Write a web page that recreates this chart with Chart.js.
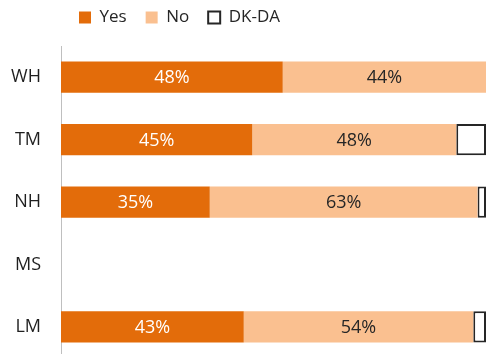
<!DOCTYPE html>
<html><head><meta charset="utf-8">
<script src="https://cdn.jsdelivr.net/npm/chart.js@4.4.1/dist/chart.umd.min.js"></script>
<style>
html,body{margin:0;padding:0;overflow:hidden;background:#fff;width:487px;height:354px}
canvas{display:block}
</style></head>
<body><canvas id="c" width="487" height="389" style="width:487px;height:389px"></canvas>
<script>
const categories = ['WH', 'TM', 'NH', 'MS', 'LM'];
const seriesNames = ['Yes', 'No', 'DK-DA'];
const yesValues = [48, 45, 35, null, 43];
const noValues = [44, 48, 63, null, 54];
const dkdaValues = [null, 7, 2, null, 3];

// 100% stacked: each bar is drawn as its share of the category total
const rawSeries = [yesValues, noValues, dkdaValues];
const totals = categories.map((_, i) => rawSeries.reduce((s, arr) => s + (arr[i] || 0), 0));
const share = arr => arr.map((v, i) => v == null ? null : v / totals[i] * 100);

const FONT = "'Open Sans', 'DejaVu Sans', sans-serif";

const legendShift = {
  id: 'legendShift',
  afterLayout(chart) {
    const lg = chart.legend;
    if (!lg) return;
    lg.left += 60; lg.right += 60;
    lg.top -= 10; lg.bottom -= 10;
  }
};

const dataLabels = {
  id: 'dataLabels',
  afterDatasetsDraw(chart) {
    const ctx = chart.ctx;
    ctx.save();
    ctx.font = '18px ' + FONT;
    ctx.textAlign = 'center';
    ctx.textBaseline = 'middle';
    [0, 1].forEach(di => {
      const meta = chart.getDatasetMeta(di);
      meta.data.forEach((el, i) => {
        const raw = rawSeries[di][i];
        if (raw == null) return;
        const p = el.getCenterPoint();
        ctx.fillStyle = di === 0 ? '#ffffff' : '#262626';
        ctx.fillText(raw + '%', p.x, p.y + 1);
      });
    });
    ctx.restore();
  }
};

new Chart(document.getElementById('c'), {
  type: 'bar',
  data: {
    labels: categories,
    datasets: [
      { label: seriesNames[0], data: share(yesValues), backgroundColor: '#E36C0A', borderWidth: 0 },
      { label: seriesNames[1], data: share(noValues), backgroundColor: '#FAC090', borderWidth: 0 },
      { label: seriesNames[2], data: share(dkdaValues), backgroundColor: '#FFFFFF', borderColor: '#262626', borderWidth: 2, borderSkipped: false }
    ]
  },
  options: {
    indexAxis: 'y',
    responsive: false,
    animation: false,
    devicePixelRatio: 1,
    layout: { padding: { left: 0, right: 1, top: 0, bottom: 0 } },
    datasets: { bar: { categoryPercentage: 0.5, barPercentage: 1 } },
    scales: {
      x: { stacked: true, display: false, min: 0, max: 100 },
      y: {
        stacked: true,
        afterFit(scale) { scale.width = 61; },
        grid: { display: true, drawOnChartArea: false, drawTicks: false, color: 'transparent' },
        border: { display: true, color: '#BFBFBF', width: 1 },
        ticks: { color: '#1f1f1f', padding: 20, font: { family: FONT, size: 18 } }
      }
    },
    plugins: {
      tooltip: { enabled: false },
      legend: {
        position: 'top',
        align: 'start',
        labels: {
          boxWidth: 12, boxHeight: 12, padding: 19,
          color: '#262626',
          font: { family: FONT, size: 17 }
        }
      }
    }
  },
  plugins: [legendShift, dataLabels]
});
</script>
</body></html>
